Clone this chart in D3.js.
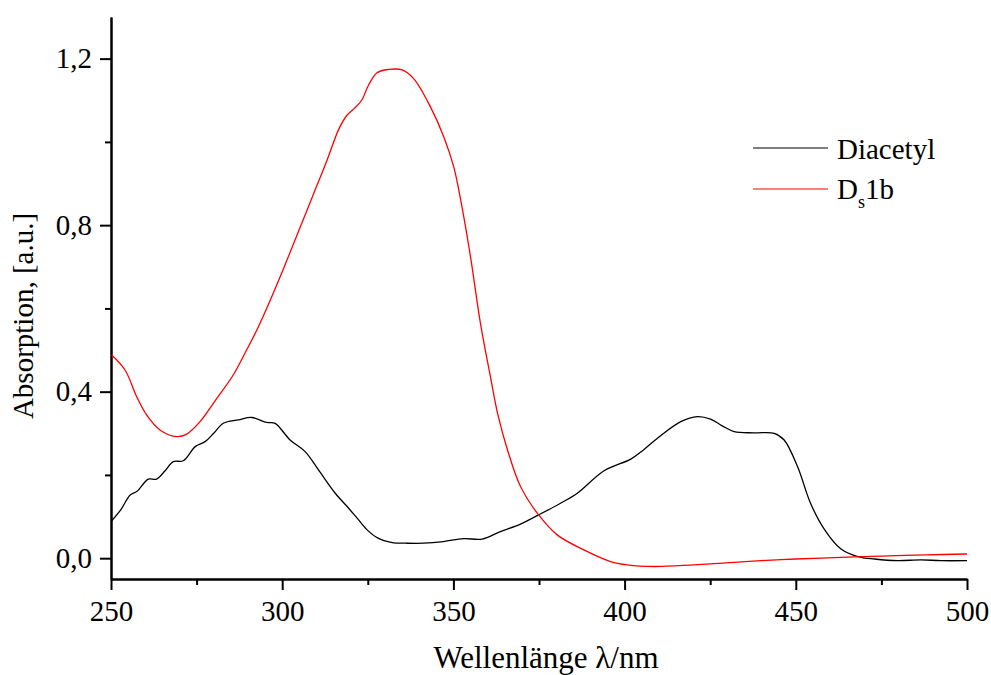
<!DOCTYPE html>
<html>
<head>
<meta charset="utf-8">
<script src="https://cdn.jsdelivr.net/npm/d3@7"></script>
<style>
  body { margin: 0; background: #fff; }
  svg { display: block; font-family: "Liberation Serif", "Times New Roman", serif; }
</style>
</head>
<body>
<svg class="canvas" width="991" height="675"></svg>
<script>
// wavelength (nm) / absorption pairs
var diacetylX = [250.2, 253, 255.6, 257.5, 260.9, 263.3, 265.8, 268.2, 271.1, 274.6, 277.5, 280, 282.8, 287.2, 291.1, 295.5, 297.9, 302.3, 306.7, 310.6, 315.5, 319.4, 322, 324.8, 328, 332.5, 336, 341.3, 347.1, 353, 358.4, 363.7, 369.6, 374.9, 381.3, 386.2, 394, 401.8, 405.5, 409.6, 416.4, 421.3, 425.1, 428.5, 432, 437.8, 443.7, 446.6, 450.5, 454.4, 458.3, 463.2, 468.1, 473, 479.8, 486.5, 492.4, 500];
var diacetylY = [0.090, 0.118, 0.152, 0.160, 0.190, 0.190, 0.210, 0.232, 0.234, 0.268, 0.280, 0.300, 0.324, 0.332, 0.338, 0.326, 0.324, 0.284, 0.256, 0.212, 0.156, 0.120, 0.095, 0.068, 0.048, 0.037, 0.036, 0.036, 0.040, 0.047, 0.046, 0.064, 0.082, 0.104, 0.132, 0.156, 0.210, 0.238, 0.260, 0.288, 0.328, 0.340, 0.334, 0.318, 0.304, 0.301, 0.300, 0.284, 0.220, 0.130, 0.070, 0.022, 0.004, -0.002, -0.006, -0.004, -0.006, -0.006];

var ds1bX = [250.2, 254.1, 257.5, 260.4, 264.3, 269.2, 272.1, 276, 280.9, 285.7, 289.6, 292.6, 296, 299.4, 301.4, 305.3, 309.2, 313.1, 316.5, 318.9, 321, 323.2, 325.2, 327.7, 331.1, 335, 338.4, 343.3, 347.2, 350.1, 352.5, 355, 357.9, 361, 362.9, 365.8, 369.6, 374.5, 380.3, 388.1, 395.9, 400.8, 408.6, 420.3, 439.8, 450, 463.2, 475, 488, 500];
var ds1bY = [0.488, 0.452, 0.388, 0.344, 0.308, 0.292, 0.298, 0.328, 0.384, 0.440, 0.500, 0.548, 0.610, 0.676, 0.716, 0.796, 0.876, 0.956, 1.030, 1.064, 1.080, 1.100, 1.136, 1.166, 1.174, 1.173, 1.152, 1.084, 1.012, 0.940, 0.844, 0.724, 0.564, 0.428, 0.348, 0.260, 0.172, 0.108, 0.056, 0.020, -0.008, -0.016, -0.020, -0.016, -0.006, -0.002, 0.002, 0.005, 0.008, 0.010];

var xTicks = [250, 300, 350, 400, 450, 500];
var xMinorTicks = [275, 325, 375, 425, 475];
var yTicks = [0, 0.4, 0.8, 1.2];
var yMinorTicks = [0.2, 0.6, 1.0];
var seriesNames = ["Diacetyl", "D", "s", "1b"];

var svg = d3.select('.canvas')

var plotLeft = 111, plotRight = 967, plotTop = 17, plotBottom = 579;

var x = d3.scaleLinear().domain([250, 500]).range([plotLeft, plotRight]);
var y = d3.scaleLinear().domain([-0.05, 1.3]).range([plotBottom, plotTop]);

var fmt = function(d) { return d3.format(".1f")(d).replace(".", ","); };

// axes
svg.append("g")
    .attr("transform", "translate(0," + plotBottom + ")")
    .call(d3.axisBottom(x).tickValues(xTicks).tickSize(11).tickPadding(10).tickSizeOuter(0));
svg.append("g")
    .attr("transform", "translate(0," + plotBottom + ")")
    .call(d3.axisBottom(x).tickValues(xMinorTicks).tickSize(6).tickFormat("").tickSizeOuter(0));

svg.append("g")
    .attr("transform", "translate(" + plotLeft + ",0)")
    .call(d3.axisLeft(y).tickValues(yTicks).tickFormat(fmt).tickSize(11).tickPadding(8).tickSizeOuter(0));
svg.append("g")
    .attr("transform", "translate(" + plotLeft + ",0)")
    .call(d3.axisLeft(y).tickValues(yMinorTicks).tickSize(6).tickFormat("").tickSizeOuter(0));

svg.selectAll(".domain, .tick line")
    .style("stroke", "#000")
    .style("stroke-width", 2);

svg.selectAll(".tick text")
    .style("font-family", "Liberation Serif")
    .style("font-size", "29px")
    .style("fill", "#000");

// curves
var line = d3.line()
    .x(function(d) { return x(d[0]); })
    .y(function(d) { return y(d[1]); })
    .curve(d3.curveCatmullRom.alpha(0.5));

svg.append("path")
    .datum(d3.zip(diacetylX, diacetylY))
    .attr("d", line)
    .style("fill", "none")
    .style("stroke", "#000")
    .style("stroke-width", 1.3);

svg.append("path")
    .datum(d3.zip(ds1bX, ds1bY))
    .attr("d", line)
    .style("fill", "none")
    .style("stroke", "#ff0000")
    .style("stroke-width", 1.3);

// axis titles
svg.append("text")
    .attr("x", 546)
    .attr("y", 668)
    .attr("text-anchor", "middle")
    .style("font-size", "31px")
    .text("Wellenlänge λ/nm");

svg.append("text")
    .attr("transform", "translate(33,316) rotate(-90)")
    .attr("text-anchor", "middle")
    .style("font-size", "29px")
    .text("Absorption, [a.u.]");

// legend
svg.append("line")
    .attr("x1", 753).attr("x2", 828)
    .attr("y1", 148).attr("y2", 148)
    .style("stroke", "#000").style("stroke-width", 1.2);
svg.append("text")
    .attr("x", 837).attr("y", 159)
    .style("font-size", "29px")
    .text(seriesNames[0]);

svg.append("line")
    .attr("x1", 753).attr("x2", 828)
    .attr("y1", 189).attr("y2", 189)
    .style("stroke", "#ff0000").style("stroke-width", 1.2);
var lab = svg.append("text")
    .attr("x", 837).attr("y", 199)
    .style("font-size", "29px");
lab.append("tspan").text(seriesNames[1]);
lab.append("tspan").attr("dy", 9).style("font-size", "18px").text(seriesNames[2]);
lab.append("tspan").attr("dy", -9).text(seriesNames[3]);
</script>
</body>
</html>
